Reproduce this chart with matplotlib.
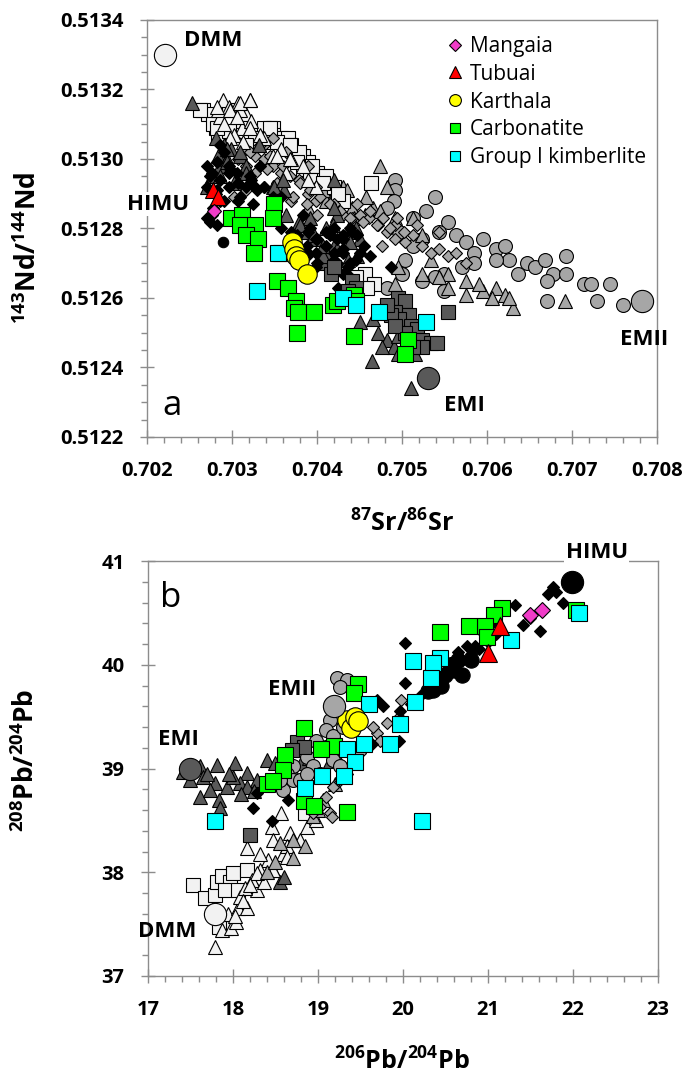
import matplotlib
matplotlib.use("Agg")
import matplotlib.pyplot as plt
from matplotlib.lines import Line2D
from matplotlib.ticker import MultipleLocator, FormatStrFormatter

plt.rcParams["font.family"] = ["Open Sans", "DejaVu Sans"]
plt.rcParams["font.weight"] = "bold"
plt.rcParams["mathtext.fontset"] = "custom"
plt.rcParams["mathtext.rm"] = "Open Sans:bold"
plt.rcParams["mathtext.bf"] = "Open Sans:bold"
plt.rcParams["mathtext.default"] = "bf"

DARK = "#595959"
MID = "#a6a6a6"
LIGHT = "#f2f2f2"
MAGENTA = "#f03cc8"
RED = "#ff0000"
YELLOW = "#ffff00"
GREEN = "#00ff00"
CYAN = "#00ffff"

# ---------------- panel a: 87Sr/86Sr vs 143Nd/144Nd ----------------
a_light_sq_x = [0.70266, 0.70272, 0.70281, 0.70284, 0.70278, 0.70296, 0.70309, 0.70296, 0.70338, 0.70348,
                0.70348, 0.70358, 0.70366, 0.70369, 0.70384, 0.70389, 0.70384, 0.70400, 0.70405, 0.70420,
                0.70463, 0.70430, 0.70456, 0.70467, 0.70459, 0.70446, 0.70327, 0.70317, 0.70338, 0.70379,
                0.70394, 0.70410, 0.70425, 0.70345, 0.70353, 0.70368, 0.70376, 0.70392, 0.70407, 0.70262,
                0.70282]
a_light_sq_y = [0.51314, 0.51313, 0.51309, 0.51307, 0.51310, 0.51314, 0.51311, 0.51308, 0.51309, 0.51309,
                0.51307, 0.51306, 0.51306, 0.51304, 0.51301, 0.51299, 0.51297, 0.51296, 0.51294, 0.51292,
                0.51293, 0.51288, 0.51267, 0.51264, 0.51263, 0.51266, 0.51306, 0.51304, 0.51305, 0.51302,
                0.51298, 0.51295, 0.51290, 0.51309, 0.51305, 0.51304, 0.51299, 0.51294, 0.51293, 0.51314,
                0.51309]

a_light_tri_x = [0.70321, 0.70289, 0.70296, 0.70307, 0.70317, 0.70286, 0.70291, 0.70312, 0.70322, 0.70302,
                 0.70338, 0.70358, 0.70369, 0.70384, 0.70399, 0.70389, 0.70363, 0.70348, 0.70332, 0.70284,
                 0.70309, 0.70282, 0.70298, 0.70309, 0.70321, 0.70306, 0.70298, 0.70321, 0.70313, 0.70333,
                 0.70353, 0.70368]
a_light_tri_y = [0.51317, 0.51317, 0.51315, 0.51316, 0.51313, 0.51312, 0.51310, 0.51309, 0.51311, 0.51307,
                 0.51306, 0.51303, 0.51300, 0.51298, 0.51292, 0.51294, 0.51296, 0.51301, 0.51304, 0.51314,
                 0.51314, 0.51315, 0.51314, 0.51316, 0.51317, 0.51312, 0.51306, 0.51309, 0.51305, 0.51307,
                 0.51301, 0.51300]

a_dark_tri_x = [0.70253, 0.70281, 0.70291, 0.70284, 0.70286, 0.70294, 0.70276, 0.70271, 0.70299, 0.70309,
                0.70317, 0.70332, 0.70348, 0.70361, 0.70363, 0.70379, 0.70389, 0.70399, 0.70420, 0.70423,
                0.70410, 0.70420, 0.70436, 0.70446, 0.70410, 0.70407, 0.70420, 0.70451, 0.70436,
                0.70294, 0.70294, 0.70309, 0.70317, 0.70286, 0.70302, 0.70349, 0.70360, 0.70392, 0.70380,
                0.70396, 0.70419, 0.70407, 0.70439, 0.70423, 0.70447, 0.70407,
                0.70465, 0.70451, 0.70466, 0.70472, 0.70482, 0.70490, 0.70495, 0.70511, 0.70477, 0.70495,
                0.70505, 0.70515]
a_dark_tri_y = [0.51316, 0.51306, 0.51304, 0.51301, 0.51298, 0.51300, 0.51295, 0.51292, 0.51303, 0.51301,
                0.51298, 0.51304, 0.51292, 0.51291, 0.51284, 0.51282, 0.51279, 0.51277, 0.51294, 0.51284,
                0.51280, 0.51286, 0.51279, 0.51280, 0.51273, 0.51270, 0.51275, 0.51277, 0.51271,
                0.51303, 0.51299, 0.51302, 0.51296, 0.51295, 0.51293, 0.51292, 0.51294, 0.51283, 0.51281,
                0.51278, 0.51281, 0.51272, 0.51276, 0.51274, 0.51272, 0.51275,
                0.51242, 0.51253, 0.51254, 0.51250, 0.51248, 0.51246, 0.51249, 0.51234, 0.51246, 0.51244,
                0.51245, 0.51244]

a_mid_dia_x = [0.70302, 0.70317, 0.70327, 0.70338, 0.70348, 0.70358, 0.70327, 0.70338, 0.70358, 0.70369,
               0.70389, 0.70399, 0.70420, 0.70430, 0.70441, 0.70451, 0.70461, 0.70472, 0.70482, 0.70492,
               0.70503, 0.70513, 0.70523, 0.70534, 0.70544, 0.70554, 0.70564, 0.70575, 0.70492, 0.70477,
               0.70518, 0.70544, 0.70379, 0.70399, 0.70317, 0.70307, 0.70338, 0.70348, 0.70363, 0.70389,
               0.70321, 0.70333, 0.70345, 0.70360, 0.70368, 0.70380, 0.70392, 0.70404, 0.70415, 0.70427,
               0.70439, 0.70454, 0.70470, 0.70486, 0.70502, 0.70372, 0.70388, 0.70400, 0.70447, 0.70462,
               0.70478, 0.70494, 0.70341, 0.70353, 0.70302, 0.70317]
a_mid_dia_y = [0.51306, 0.51303, 0.51301, 0.51300, 0.51298, 0.51296, 0.51296, 0.51292, 0.51292, 0.51288,
               0.51290, 0.51288, 0.51287, 0.51284, 0.51283, 0.51284, 0.51283, 0.51281, 0.51279, 0.51277,
               0.51276, 0.51278, 0.51275, 0.51273, 0.51274, 0.51272, 0.51273, 0.51270, 0.51281, 0.51275,
               0.51281, 0.51279, 0.51294, 0.51292, 0.51298, 0.51300, 0.51304, 0.51306, 0.51302, 0.51298,
               0.51302, 0.51304, 0.51301, 0.51298, 0.51295, 0.51293, 0.51291, 0.51289, 0.51287, 0.51285,
               0.51283, 0.51282, 0.51281, 0.51280, 0.51279, 0.51289, 0.51287, 0.51284, 0.51287, 0.51285,
               0.51283, 0.51283, 0.51297, 0.51293, 0.51289, 0.51291]

a_mid_tri_x = [0.70474, 0.70482, 0.70466, 0.70492, 0.70456, 0.70441, 0.70420, 0.70430, 0.70513, 0.70523,
               0.70534, 0.70523, 0.70554, 0.70575, 0.70595, 0.70590, 0.70611, 0.70621, 0.70631, 0.70626,
               0.70606, 0.70544, 0.70692, 0.70495, 0.70492, 0.70420, 0.70399, 0.70410, 0.70389, 0.70575,
               0.70554, 0.70423, 0.70407, 0.70435, 0.70458, 0.70419, 0.70474, 0.70443]
a_mid_tri_y = [0.51298, 0.51292, 0.51286, 0.51283, 0.51284, 0.51286, 0.51290, 0.51292, 0.51283, 0.51278,
               0.51271, 0.51267, 0.51267, 0.51265, 0.51262, 0.51264, 0.51263, 0.51261, 0.51257, 0.51260,
               0.51260, 0.51266, 0.51259, 0.51269, 0.51264, 0.51293, 0.51294, 0.51288, 0.51286, 0.51261,
               0.51263, 0.51288, 0.51291, 0.51291, 0.51289, 0.51294, 0.51285, 0.51283]

a_mid_circ_x = [0.70492, 0.70492, 0.70490, 0.70482, 0.70539, 0.70528, 0.70513, 0.70497, 0.70554, 0.70544,
                0.70523, 0.70513, 0.70564, 0.70575, 0.70585, 0.70595, 0.70611, 0.70621, 0.70626, 0.70647,
                0.70657, 0.70668, 0.70678, 0.70693, 0.70693, 0.70670, 0.70637, 0.70611, 0.70585, 0.70570,
                0.70549, 0.70539, 0.70549, 0.70523, 0.70500, 0.70482, 0.70503, 0.70714, 0.70722, 0.70745,
                0.70729, 0.70760, 0.70670]
a_mid_circ_y = [0.51294, 0.51291, 0.51288, 0.51286, 0.51289, 0.51285, 0.51283, 0.51279, 0.51282, 0.51279,
                0.51277, 0.51275, 0.51278, 0.51276, 0.51273, 0.51277, 0.51274, 0.51275, 0.51271, 0.51270,
                0.51269, 0.51271, 0.51267, 0.51272, 0.51267, 0.51265, 0.51267, 0.51271, 0.51270, 0.51269,
                0.51267, 0.51266, 0.51262, 0.51265, 0.51267, 0.51263, 0.51271, 0.51264, 0.51264, 0.51264,
                0.51259, 0.51258, 0.51259]

a_black_dia_x = [0.70271, 0.70276, 0.70286, 0.70271, 0.70281, 0.70276, 0.70271, 0.70286, 0.70296, 0.70307,
                 0.70317, 0.70327, 0.70322, 0.70296, 0.70307, 0.70286, 0.70291, 0.70296, 0.70338, 0.70348,
                 0.70358, 0.70274, 0.70282, 0.70290, 0.70278, 0.70306, 0.70321, 0.70329, 0.70325, 0.70309,
                 0.70298, 0.70282, 0.70333, 0.70274, 0.70282,
                 0.70389, 0.70399, 0.70410, 0.70420, 0.70430, 0.70420, 0.70410, 0.70430, 0.70436,
                 0.70399, 0.70389, 0.70420, 0.70425, 0.70430, 0.70399, 0.70384, 0.70369, 0.70358, 0.70487,
                 0.70446, 0.70451, 0.70441, 0.70376, 0.70388, 0.70400, 0.70415, 0.70423, 0.70431, 0.70439,
                 0.70447, 0.70431, 0.70439, 0.70423, 0.70415, 0.70400, 0.70388, 0.70376, 0.70392, 0.70455,
                 0.70462, 0.70439]
a_black_dia_y = [0.51298, 0.51296, 0.51294, 0.51292, 0.51290, 0.51284, 0.51283, 0.51288, 0.51292, 0.51293,
                 0.51292, 0.51292, 0.51294, 0.51296, 0.51288, 0.51304, 0.51302, 0.51298, 0.51292, 0.51289,
                 0.51289, 0.51295, 0.51291, 0.51288, 0.51286, 0.51296, 0.51295, 0.51291, 0.51287, 0.51289,
                 0.51297, 0.51299, 0.51298, 0.51282, 0.51281,
                 0.51279, 0.51277, 0.51279, 0.51280, 0.51277, 0.51273, 0.51275, 0.51273, 0.51269,
                 0.51273, 0.51273, 0.51271, 0.51263, 0.51267, 0.51269, 0.51284, 0.51279, 0.51280, 0.51269,
                 0.51271, 0.51273, 0.51279, 0.51278, 0.51275, 0.51277, 0.51278, 0.51277, 0.51278, 0.51280,
                 0.51278, 0.51274, 0.51270, 0.51270, 0.51268, 0.51270, 0.51272, 0.51272, 0.51280, 0.51275,
                 0.51272, 0.51266]

a_dark_sq_x = [0.70416, 0.70420, 0.70441, 0.70446, 0.70436, 0.70495, 0.70503, 0.70492, 0.70508, 0.70497,
               0.70510, 0.70518, 0.70503, 0.70523, 0.70534, 0.70541, 0.70523, 0.70513, 0.70554, 0.70487,
               0.70482, 0.70492]
a_dark_sq_y = [0.51267, 0.51269, 0.51265, 0.51263, 0.51262, 0.51260, 0.51259, 0.51256, 0.51255, 0.51254,
               0.51252, 0.51251, 0.51250, 0.51248, 0.51247, 0.51247, 0.51246, 0.51246, 0.51256, 0.51255,
               0.51258, 0.51252]

a_black_circ_x = [0.70289]
a_black_circ_y = [0.51276]

a_carb_x = [0.70349, 0.70348, 0.70299, 0.70312, 0.70309, 0.70327, 0.70317, 0.70330, 0.70326, 0.70353,
            0.70366, 0.70375, 0.70373, 0.70378, 0.70397, 0.70377, 0.70419, 0.70424, 0.70443, 0.70446,
            0.70443, 0.70507, 0.70503, 0.70358]
a_carb_y = [0.51287, 0.51283, 0.51283, 0.51284, 0.51281, 0.51281, 0.51278, 0.51277, 0.51273, 0.51265,
            0.51263, 0.51259, 0.51257, 0.51256, 0.51256, 0.51250, 0.51258, 0.51259, 0.51261, 0.51259,
            0.51249, 0.51248, 0.51244, 0.51273]

a_kimb_x = [0.70329, 0.70354, 0.70473, 0.70528, 0.70430, 0.70446]
a_kimb_y = [0.51262, 0.51273, 0.51256, 0.51253, 0.51260, 0.51258]

a_karthala_x = [0.70370, 0.70373, 0.70375, 0.70379, 0.70388]
a_karthala_y = [0.51276, 0.51274, 0.51272, 0.51271, 0.51267]

a_tubuai_x = [0.70278, 0.70284]
a_tubuai_y = [0.51291, 0.51289]

a_mangaia_x = [0.70279]
a_mangaia_y = [0.51285]

# end members: DMM, EMI, EMII
a_em_x = [0.70221, 0.70531, 0.70782]
a_em_y = [0.51330, 0.51237, 0.51259]

# ---------------- panel b: 206Pb/204Pb vs 208Pb/204Pb ----------------
b_dark_tri_x = [17.61, 17.81, 18.02, 18.16, 17.49, 17.65, 17.79, 17.93, 18.08, 17.61, 17.83, 17.73, 18.00,
                18.28, 17.85, 17.41, 18.16, 18.40, 19.14, 17.70, 17.95, 18.10, 18.25, 18.50, 18.60, 18.70,
                18.80, 18.55, 18.90, 18.70, 19.20, 18.55, 18.60]
b_dark_tri_y = [39.02, 39.03, 39.05, 38.96, 38.89, 38.92, 38.86, 38.82, 38.86, 38.73, 38.70, 38.79, 38.92,
                38.89, 38.62, 38.97, 38.82, 39.08, 39.07, 38.95, 38.95, 38.75, 38.78, 39.05, 38.95, 39.00,
                39.05, 38.85, 39.10, 38.90, 39.15, 37.91, 37.95]

b_light_tri_x = [17.79, 17.87, 17.98, 18.04, 17.94, 18.06, 18.16, 18.08, 18.28, 18.22, 18.14, 18.41, 18.59,
                 18.32, 18.47, 18.36, 18.57, 18.46, 18.67, 18.16, 18.47, 18.32, 18.63, 18.79, 18.28, 18.47,
                 18.63, 18.87, 18.98, 18.02, 18.12, 18.20]
b_light_tri_y = [37.28, 37.44, 37.46, 37.52, 37.60, 37.66, 37.66, 37.76, 37.83, 37.93, 37.85, 38.12, 38.18,
                 38.02, 38.02, 37.91, 38.57, 38.44, 38.38, 38.23, 38.31, 38.18, 38.25, 38.31, 37.99, 38.02,
                 38.15, 38.44, 38.50, 37.58, 37.72, 37.88]

b_light_sq_x = [17.53, 17.67, 17.79, 17.81, 17.87, 17.96, 17.91, 18.00, 18.06, 18.16, 17.92, 17.83, 18.85]
b_light_sq_y = [37.88, 37.75, 37.78, 37.91, 37.96, 37.91, 37.83, 37.99, 37.83, 38.02, 37.46, 37.47, 38.57]

b_mid_circ_x = [19.22, 19.34, 19.26, 19.18, 19.14, 19.10, 19.18, 19.10, 18.79, 18.87, 18.71, 18.63, 18.71,
                18.59, 18.79, 18.94, 19.02, 19.18, 19.26, 18.98, 19.30, 18.87, 18.55]
b_mid_circ_y = [39.87, 39.85, 39.79, 39.63, 39.47, 39.37, 39.31, 39.21, 39.18, 39.11, 39.02, 38.95, 38.89,
                38.79, 38.89, 39.02, 38.95, 39.08, 39.02, 39.27, 39.40, 38.95, 38.89]

b_mid_dia_x = [19.41, 19.57, 19.69, 19.65, 19.81, 19.98, 19.10, 19.18, 19.26, 19.02, 18.94, 19.14, 19.34,
               19.49, 19.73, 19.16, 19.95]
b_mid_dia_y = [39.08, 39.24, 39.34, 39.40, 39.44, 39.66, 38.73, 38.82, 38.89, 38.63, 38.57, 38.57, 38.95,
               39.15, 39.27, 38.53, 39.50]

b_mid_tri_x = [18.55, 18.71, 18.94, 19.06, 18.71, 18.40, 18.50, 18.85, 19.00, 19.20]
b_mid_tri_y = [38.28, 38.31, 38.54, 38.70, 38.14, 38.00, 38.10, 38.25, 38.60, 38.85]

b_dark_sq_x = [18.20, 18.75, 18.83, 18.69]
b_dark_sq_y = [38.36, 39.26, 39.21, 39.18]

b_black_dia_x = [18.24, 18.46, 18.28, 18.65, 20.02, 20.02, 19.77, 19.69, 19.95, 19.96, 19.64, 20.10, 20.20,
                 20.30, 20.40, 20.50, 20.60, 20.70, 20.80, 20.85, 20.90, 21.00, 21.10, 21.32, 21.41, 21.61,
                 21.76, 21.88, 21.70, 21.80, 21.50, 20.75, 20.65, 20.55, 20.95, 21.05]
b_black_dia_y = [38.62, 38.49, 38.76, 38.70, 40.21, 39.82, 39.60, 39.66, 39.27, 39.55, 39.24, 39.62, 39.70,
                 39.78, 39.85, 39.90, 39.98, 40.05, 40.10, 40.18, 40.15, 40.22, 40.30, 40.58, 40.38, 40.33,
                 40.75, 40.60, 40.68, 40.70, 40.45, 40.18, 40.12, 40.02, 40.30, 40.40]

b_black_circ_x = [20.30, 20.40, 20.50, 20.60, 20.70, 20.55, 20.65, 20.80, 20.45, 20.35]
b_black_circ_y = [39.75, 39.85, 39.90, 39.95, 39.90, 40.00, 40.05, 40.05, 39.80, 39.76]

b_carb_x = [21.16, 21.07, 20.97, 20.78, 20.43, 20.99, 22.04, 19.47, 19.42, 18.84, 19.19, 19.03, 18.61,
            18.59, 18.40, 18.47, 18.84, 18.95, 19.34]
b_carb_y = [40.55, 40.48, 40.37, 40.37, 40.32, 40.27, 40.53, 39.81, 39.73, 39.39, 39.22, 39.19, 39.13,
            38.99, 38.85, 38.88, 38.69, 38.64, 38.58]

b_kimb_x = [22.07, 21.27, 20.44, 20.12, 20.35, 20.33, 20.14, 19.96, 19.85, 19.60, 19.54, 19.34, 19.44,
            19.31, 19.05, 18.85, 17.79, 20.22]
b_kimb_y = [40.50, 40.24, 40.07, 40.04, 40.02, 39.87, 39.64, 39.43, 39.24, 39.62, 39.24, 39.19, 39.06,
            38.93, 38.93, 38.81, 38.49, 38.49]

b_karthala_x = [19.34, 19.39, 19.44, 19.47]
b_karthala_y = [39.47, 39.39, 39.50, 39.46]

b_tubuai_x = [21.00, 21.14]
b_tubuai_y = [40.11, 40.37]

b_mangaia_x = [21.49, 21.64]
b_mangaia_y = [40.48, 40.53]

# end members: DMM, EMI, EMII, HIMU
b_em_x = [17.79, 17.49, 19.19, 21.99]
b_em_y = [37.60, 39.00, 39.60, 40.80]


def pts(ax, x, y, marker, face, size, z, mew=0.8):
    ax.plot(x, y, ls="none", marker=marker, mfc=face, mec="black", mew=mew, ms=size, zorder=z)


def style(ax):
    for s in ax.spines.values():
        s.set_color("#8c8c8c")
        s.set_linewidth(1.0)
    ax.tick_params(which="major", direction="inout", length=10, width=1, color="#8c8c8c",
                   pad=12, labelsize=14.5)
    ax.tick_params(which="minor", direction="out", length=4.5, width=1, color="#8c8c8c")


def label(ax, x, y, s, box=False):
    kw = dict(fontsize=16, fontweight="bold", ha="center", va="center", zorder=20, clip_on=False)
    if box:
        kw["bbox"] = dict(fc="white", ec="none", pad=1)
    ax.text(x, y, s, **kw)


fig = plt.figure(figsize=(6.88, 10.75), dpi=100)
axA = fig.add_axes([0.2137, 0.5935, 0.7413, 0.3879])
axB = fig.add_axes([0.2151, 0.0921, 0.7413, 0.3860])

# ---- panel a ----
pts(axA, a_mid_circ_x, a_mid_circ_y, "o", MID, 10, 3)
pts(axA, a_mid_tri_x, a_mid_tri_y, "^", MID, 10.5, 3.1)
pts(axA, a_light_sq_x, a_light_sq_y, "s", LIGHT, 9.5, 3.2)
pts(axA, a_mid_dia_x, a_mid_dia_y, "D", MID, 6.5, 3.3)
pts(axA, a_light_tri_x, a_light_tri_y, "^", LIGHT, 10.5, 3.4)
pts(axA, a_dark_tri_x, a_dark_tri_y, "^", DARK, 10.5, 3.5)
pts(axA, a_black_dia_x, a_black_dia_y, "D", "black", 6.5, 3.6)
pts(axA, a_dark_sq_x, a_dark_sq_y, "s", DARK, 9.5, 3.7)
pts(axA, a_black_circ_x, a_black_circ_y, "o", "black", 7.5, 3.8)
pts(axA, a_carb_x, a_carb_y, "s", GREEN, 11, 4)
pts(axA, a_kimb_x, a_kimb_y, "s", CYAN, 11, 4.1)
pts(axA, a_karthala_x, a_karthala_y, "o", YELLOW, 14, 4.2)
pts(axA, a_tubuai_x, a_tubuai_y, "^", RED, 12, 4.3)
pts(axA, a_mangaia_x, a_mangaia_y, "D", MAGENTA, 7.5, 4.4)
for ex, ey, ec in zip(a_em_x, a_em_y, [LIGHT, DARK, MID]):
    pts(axA, [ex], [ey], "o", ec, 16, 5)

axA.set_xlim(0.702, 0.708)
axA.set_ylim(0.5122, 0.5134)
axA.xaxis.set_major_locator(MultipleLocator(0.001))
axA.xaxis.set_minor_locator(MultipleLocator(0.0002))
axA.yaxis.set_major_locator(MultipleLocator(0.0002))
axA.yaxis.set_minor_locator(MultipleLocator(0.00005))
axA.xaxis.set_major_formatter(FormatStrFormatter("%.3f"))
axA.yaxis.set_major_formatter(FormatStrFormatter("%.4f"))
style(axA)

label(axA, 0.70278, 0.51334, "DMM")
label(axA, 0.70213, 0.51287, "HIMU", box=True)
label(axA, 0.70574, 0.51229, "EMI")
label(axA, 0.70785, 0.51248, "EMII")
axA.text(0.70229, 0.51229, "a", fontsize=25, fontweight="normal", ha="center", va="center")

handles = [
    Line2D([], [], ls="none", marker="D", mfc=MAGENTA, mec="black", mew=0.8, ms=6),
    Line2D([], [], ls="none", marker="^", mfc=RED, mec="black", mew=0.8, ms=8.5),
    Line2D([], [], ls="none", marker="o", mfc=YELLOW, mec="black", mew=0.8, ms=8.5),
    Line2D([], [], ls="none", marker="s", mfc=GREEN, mec="black", mew=0.8, ms=7.5),
    Line2D([], [], ls="none", marker="s", mfc=CYAN, mec="black", mew=0.8, ms=7.5),
]
names = ["Mangaia", "Tubuai", "Karthala", "Carbonatite", "Group I kimberlite"]
axA.legend(handles, names, loc="upper left", bbox_to_anchor=(0.588, 0.962), frameon=False,
           prop={"weight": "normal", "size": 15}, handlelength=0.8, handletextpad=0.3,
           labelspacing=0.33, borderpad=0, borderaxespad=0)

# ---- panel b ----
pts(axB, b_dark_tri_x, b_dark_tri_y, "^", DARK, 10.5, 3)
pts(axB, b_light_sq_x, b_light_sq_y, "s", LIGHT, 9.5, 3.1)
pts(axB, b_light_tri_x, b_light_tri_y, "^", LIGHT, 10.5, 3.2)
pts(axB, b_mid_tri_x, b_mid_tri_y, "^", MID, 10.5, 3.3)
pts(axB, b_mid_circ_x, b_mid_circ_y, "o", MID, 10, 3.4)
pts(axB, b_mid_dia_x, b_mid_dia_y, "D", MID, 6.5, 3.5)
pts(axB, b_dark_sq_x, b_dark_sq_y, "s", DARK, 9.5, 3.6)
pts(axB, b_black_circ_x, b_black_circ_y, "o", "black", 11, 3.7)
pts(axB, b_black_dia_x, b_black_dia_y, "D", "black", 6.5, 3.8)
pts(axB, b_carb_x, b_carb_y, "s", GREEN, 11, 4)
pts(axB, b_kimb_x, b_kimb_y, "s", CYAN, 11, 4.1)
pts(axB, b_karthala_x, b_karthala_y, "o", YELLOW, 14, 4.2)
pts(axB, b_tubuai_x, b_tubuai_y, "^", RED, 12.5, 4.3)
pts(axB, b_mangaia_x, b_mangaia_y, "D", MAGENTA, 8.5, 4.4)
for ex, ey, ec in zip(b_em_x, b_em_y, [LIGHT, DARK, MID, "black"]):
    pts(axB, [ex], [ey], "o", ec, 16, 5)

axB.set_xlim(17, 23)
axB.set_ylim(37, 41)
axB.xaxis.set_major_locator(MultipleLocator(1))
axB.xaxis.set_minor_locator(MultipleLocator(0.2))
axB.yaxis.set_major_locator(MultipleLocator(1))
axB.yaxis.set_minor_locator(MultipleLocator(0.2))
style(axB)

label(axB, 22.28, 41.08, "HIMU", box=True)
label(axB, 18.69, 39.76, "EMII")
label(axB, 17.36, 39.28, "EMI")
label(axB, 17.22, 37.43, "DMM")
axB.text(17.27, 40.64, "b", fontsize=25, fontweight="normal", ha="center", va="center")

# axis titles
fig.text(402 / 688, 1 - 524 / 1075, r"$^{87}$Sr/$^{86}$Sr", fontsize=18, fontweight="bold",
         ha="center", va="center")
fig.text(28 / 688, 1 - 248 / 1075, r"$^{143}$Nd/$^{144}$Nd", fontsize=19, fontweight="bold",
         ha="center", va="center", rotation=90)
fig.text(402 / 688, 1 - 1062 / 1075, r"$^{206}$Pb/$^{204}$Pb", fontsize=18, fontweight="bold",
         ha="center", va="center")
fig.text(26 / 688, 1 - 760 / 1075, r"$^{208}$Pb/$^{204}$Pb", fontsize=19, fontweight="bold",
         ha="center", va="center", rotation=90)

fig.savefig("out.png", dpi=100)
plt.close(fig)
